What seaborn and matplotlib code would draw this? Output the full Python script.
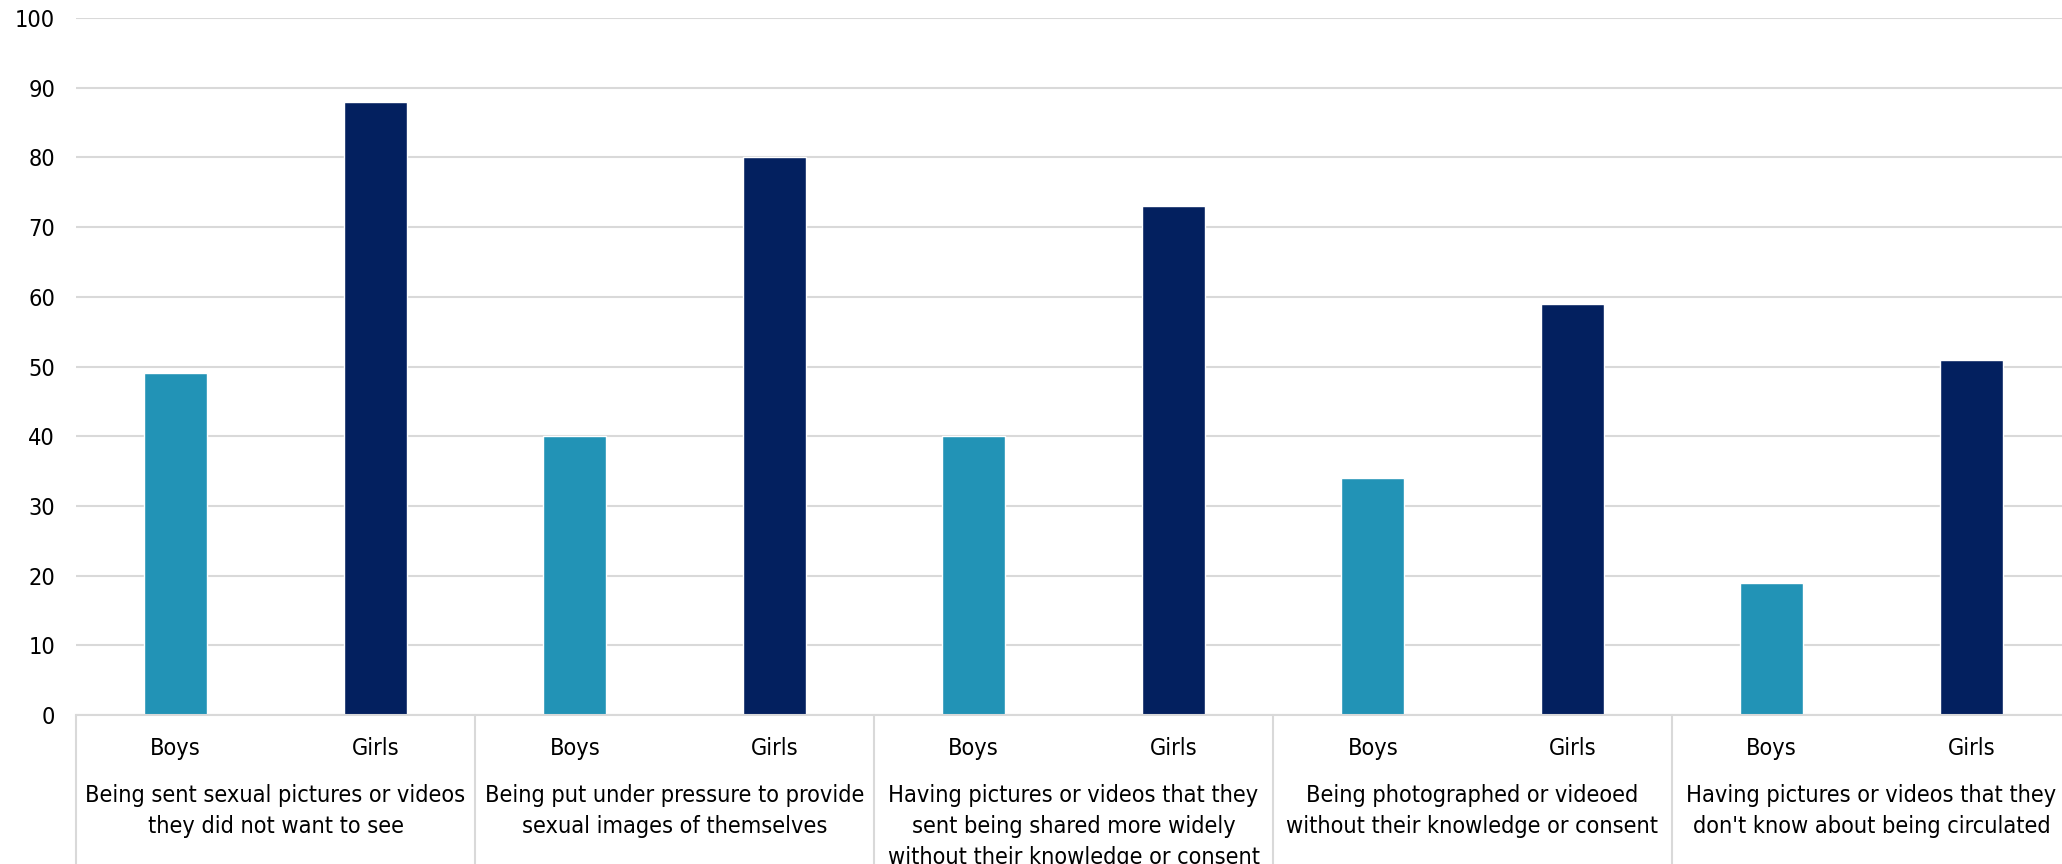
import pandas as pd
import matplotlib
matplotlib.use('Agg')
import matplotlib.pyplot as plt
import seaborn as sns

# Chart data
categories = [
    'Being sent sexual pictures or videos\nthey did not want to see',
    'Being put under pressure to provide\nsexual images of themselves',
    'Having pictures or videos that they\nsent being shared more widely\nwithout their knowledge or consent',
    'Being photographed or videoed\nwithout their knowledge or consent',
    "Having pictures or videos that they\ndon't know about being circulated",
]
genders = ['Boys', 'Girls']
boys = [49, 40, 40, 34, 19]
girls = [88, 80, 73, 59, 51]
y_ticks = [0, 10, 20, 30, 40, 50, 60, 70, 80, 90, 100]

colors = {'Boys': '#2293B6', 'Girls': '#03205F'}

# Long-form table: one row per bar
rows = []
for i, cat in enumerate(categories):
    rows.append({'slot': str(2 * i), 'gender': 'Boys', 'value': boys[i]})
    rows.append({'slot': str(2 * i + 1), 'gender': 'Girls', 'value': girls[i]})
df = pd.DataFrame(rows)
order = [str(k) for k in range(2 * len(categories))]

sns.set_style('white')
plt.rcParams['font.family'] = ['DejaVu Sans']
plt.rcParams['font.stretch'] = 'condensed'

fig = plt.figure(figsize=(20.62, 8.64), dpi=100)
ax = fig.add_axes([76 / 2062, 149 / 864, 1995 / 2062, 697 / 864])

sns.barplot(data=df, x='slot', y='value', hue='gender', order=order,
            palette=colors, dodge=False, width=0.315, saturation=1,
            legend=False, ax=ax)

ax.set_xlim(-0.5, 2 * len(categories) - 0.5)
ax.set_ylim(0, 100)
ax.set_yticks(y_ticks)
ax.yaxis.grid(True, color='#d9d9d9', linewidth=1.5)
ax.set_axisbelow(True)
ax.set_xlabel('')
ax.set_ylabel('')

for s in ['top', 'right', 'left']:
    ax.spines[s].set_visible(False)
ax.spines['bottom'].set_color('#d9d9d9')
ax.spines['bottom'].set_linewidth(1.5)

fs = 16.8
ax.set_xticks(range(len(order)))
ax.set_xticklabels(genders * len(categories))
ax.tick_params(axis='x', length=0, pad=16, labelsize=fs, colors='black')
ax.tick_params(axis='y', length=0, pad=15, labelsize=fs, colors='black')

# Category labels and separators under the axis
for i, cat in enumerate(categories):
    ax.annotate(cat, xy=(2 * i + 0.5, 0), xycoords=('data', 'axes fraction'),
                xytext=(0, -50), textcoords='offset points',
                ha='center', va='top', fontsize=fs, linespacing=1.42,
                color='black', annotation_clip=False)
    ax.axvline(2 * i - 0.5, ymin=-0.25, ymax=0, color='#d9d9d9',
               linewidth=1.5, clip_on=False)

fig.savefig('out.png', dpi=100)
